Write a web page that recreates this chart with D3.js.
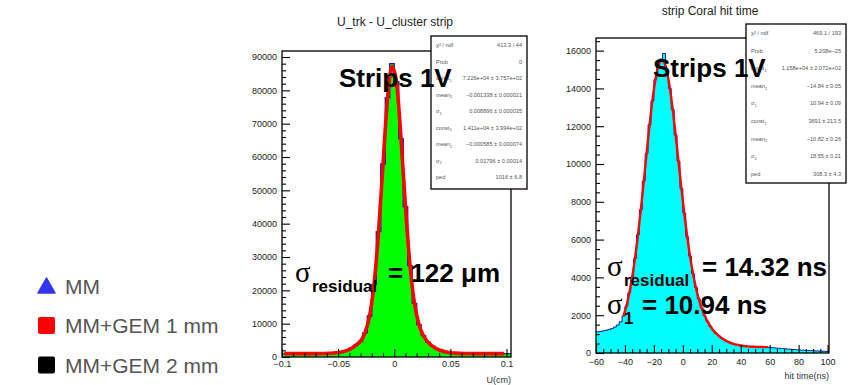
<!DOCTYPE html>
<html>
<head>
<meta charset="utf-8">
<script src="https://cdn.jsdelivr.net/npm/d3@7"></script>
<style>
  body { margin: 0; background: #fff; }
  svg { display: block; font-family: "Liberation Sans", Arial, sans-serif; }
</style>
</head>
<body>
<script>
// --- Daten: linkes Histogramm (U_trk - U_cluster), Bins von -0.1 in Schritten von 0.004
const uBinLo = -0.1;
const uBinWidth = 0.004;
const uCounts = [1010, 1030, 1000, 1020, 1040, 1010, 1030, 1020, 1050, 1060,
                 1110, 1190, 1340, 1600, 2010, 2650, 3590, 4760, 7250, 12300,
                 21800, 37600, 57900, 77800, 88000, 82600, 65500, 45100, 27400, 16100,
                 9700, 6400, 4450, 3270, 2410, 1870, 1500, 1290, 1150, 1090,
                 1050, 1030, 1020, 1040, 1010, 1020, 1000, 1030, 1010, 1020];
const uFit = [1016, 1016, 1016, 1016, 1016, 1016, 1019, 1024, 1034, 1057,
              1101, 1185, 1336, 1593, 2006, 2641, 3601, 4728, 7282, 12285,
              21784, 37409, 57857, 77490, 87142, 82330, 65630, 44954, 27509, 16083,
              9729, 6377, 4472, 3251, 2424, 1864, 1504, 1283, 1155, 1085,
              1049, 1030, 1022, 1018, 1016, 1016, 1016, 1016, 1016, 1016];
const uYTicks = [0, 10000, 20000, 30000, 40000, 50000, 60000, 70000, 80000, 90000];
const uXTicks = [-0.1, -0.05, 0, 0.05, 0.1];
const uXTickLabels = ["\u22120.1", "\u22120.05", "0", "0.05", "0.1"];
const uStats = [
  ["\u03c7\u00b2 / ndf", "", "413.3 / 44"],
  ["Prob", "", "0"],
  ["const", "1", "7.226e+04 \u00b1 3.757e+02"],
  ["mean", "1", "\u22120.001338 \u00b1 0.000021"],
  ["\u03c3", "1", "0.008896 \u00b1 0.000035"],
  ["const", "2", "1.411e+04 \u00b1 3.994e+02"],
  ["mean", "2", "\u22120.000585 \u00b1 0.000074"],
  ["\u03c3", "2", "0.01796 \u00b1 0.00014"],
  ["ped", "", "1016 \u00b1 6.8"]
];

// --- Daten: rechtes Histogramm (strip Coral hit time), Bins von -60 ns, 2 ns breit
const tBinLo = -60;
const tBinWidth = 2;
const tCounts = [1120, 1140, 1170, 1200, 1240, 1290, 1370, 1480, 1650, 1960,
                 2470, 3180, 4020, 5010, 6270, 7580, 9100, 10560, 12080, 13340,
                 14460, 15200, 15560, 15850, 14900, 14000, 12900, 11530, 10150, 8700,
                 7400, 6150, 5120, 4200, 3480, 2860, 2390, 1980, 1680, 1410,
                 1210, 1030, 900, 770, 685, 600, 540, 480, 445, 405,
                 385, 360, 350, 335, 330, 320, 315, 310, 305, 300,
                 290, 275, 260, 245, 230, 220, 205, 195, 185, 170,
                 160, 150, 140, 130, 125, 115, 110, 100, 95, 85];
const tFitStart = -41;
const tFitStep = 2;
const tFit = [1955, 2483, 3159, 4006, 5033, 6240, 7602, 9074, 10588, 12051,
              13365, 14429, 15157, 15485, 15391, 14888, 14023, 12878, 11549, 10132,
              8719, 7381, 6168, 5110, 4212, 3471, 2867, 2381, 1990, 1674,
              1419, 1209, 1037, 895, 777, 680, 600, 535, 483, 441,
              408, 383, 363, 348, 337, 328, 322, 318, 315, 313, 311];
const tYTicks = [0, 2000, 4000, 6000, 8000, 10000, 12000, 14000, 16000];
const tXTicks = [-60, -40, -20, 0, 20, 40, 60, 80, 100];
const tXTickLabels = ["\u221260", "\u221240", "\u221220", "0", "20", "40", "60", "80", "100"];
const tStats = [
  ["\u03c7\u00b2 / ndf", "", "469.1 / 193"],
  ["Prob", "", "5.208e\u221225"],
  ["const", "1", "1.158e+04 \u00b1 2.072e+02"],
  ["mean", "1", "\u221214.84 \u00b1 0.05"],
  ["\u03c3", "1", "10.94 \u00b1 0.09"],
  ["const", "2", "3691 \u00b1 213.5"],
  ["mean", "2", "\u221210.82 \u00b1 0.26"],
  ["\u03c3", "2", "18.55 \u00b1 0.21"],
  ["ped", "", "308.3 \u00b1 4.3"]
];

// --- Legende
const legendNames = ["MM", "MM+GEM 1 mm", "MM+GEM 2 mm"];
const legendColors = ["#3434f5", "#ff0000", "#000000"];
const legendShapes = ["triangle", "square", "square"];

const width = 856;
const height = 385;

const svg = d3.select("body").append("svg")
    .attr("width", width)
    .attr("height", height)
    .attr("viewBox", [0, 0, width, height]);

svg.append("rect").attr("width", width).attr("height", height).attr("fill", "#fff");

function drawPanel(p) {
  const x = d3.scaleLinear().domain(p.xDomain).range(p.xRange);
  const y = d3.scaleLinear().domain(p.yDomain).range(p.yRange);
  const g = svg.append("g");

  g.append("clipPath").attr("id", p.id + "-clip")
    .append("rect")
      .attr("x", p.xRange[0]).attr("y", p.yRange[1])
      .attr("width", p.xRange[1] - p.xRange[0])
      .attr("height", p.yRange[0] - p.yRange[1]);

  // Histogramm als Stufen
  const steps = p.counts.map((c, i) => [p.binLo + i * p.binW, c]);
  steps.push([p.xDomain[1], p.counts[p.counts.length - 1]]);

  const plot = g.append("g").attr("clip-path", `url(#${p.id}-clip)`);

  plot.append("path")
      .datum(steps)
      .attr("fill", p.fill)
      .attr("d", d3.area()
        .x(d => x(d[0]))
        .y0(y(0))
        .y1(d => y(d[1]))
        .curve(d3.curveStepAfter));

  plot.append("path")
      .datum(steps)
      .attr("fill", "none")
      .attr("stroke", "#1a1a9a")
      .attr("stroke-width", p.histWidth)
      .attr("d", d3.line()
        .x(d => x(d[0]))
        .y(d => y(d[1]))
        .curve(d3.curveStepAfter));

  // Fitkurve
  plot.append("path")
      .datum(p.fitX.map((v, i) => [v, p.fitY[i]]))
      .attr("fill", "none")
      .attr("stroke", "#ff0000")
      .attr("stroke-width", p.fitWidth)
      .attr("stroke-linejoin", "round")
      .attr("d", d3.line()
        .x(d => x(d[0]))
        .y(d => y(d[1]))
        .curve(d3.curveMonotoneX));

  // Achsen mit nach innen zeigenden Ticks (ROOT-Stil)
  const minorY = d3.range(p.yDomain[0], p.yDomain[1], p.yMinor).filter(v => v % p.yMajor !== 0);
  const minorX = d3.range(p.xDomain[0], p.xDomain[1] + 1e-9, p.xMinor)
      .filter(v => p.xTicks.every(t => Math.abs(t - v) > 1e-9));

  const styleAxis = sel => {
    sel.select(".domain").remove();
    sel.selectAll("line").attr("stroke", "#000").attr("stroke-width", 1.1);
    sel.selectAll("text").attr("fill", "#222").attr("font-size", 9)
      .attr("font-family", "Liberation Sans, Arial, sans-serif");
  };

  g.append("g").attr("transform", `translate(${p.xRange[0]},0)`)
    .call(d3.axisLeft(y).tickValues(p.yTicks).tickSize(-8).tickPadding(5).tickFormat(d3.format("d")))
    .call(styleAxis);
  g.append("g").attr("transform", `translate(${p.xRange[0]},0)`)
    .call(d3.axisLeft(y).tickValues(minorY).tickSize(-4).tickFormat(""))
    .call(styleAxis);
  g.append("g").attr("transform", `translate(0,${p.yRange[0]})`)
    .call(d3.axisBottom(x).tickValues(p.xTicks).tickSize(-8).tickPadding(p.xPad)
      .tickFormat((d, i) => p.xTickLabels[i]))
    .call(styleAxis);
  g.append("g").attr("transform", `translate(0,${p.yRange[0]})`)
    .call(d3.axisBottom(x).tickValues(minorX).tickSize(-4).tickFormat(""))
    .call(styleAxis);

  // Rahmen
  g.append("rect")
      .attr("x", p.xRange[0]).attr("y", p.yRange[1])
      .attr("width", p.xRange[1] - p.xRange[0])
      .attr("height", p.yRange[0] - p.yRange[1])
      .attr("fill", "none")
      .attr("stroke", "#000")
      .attr("stroke-width", 1.3);

  // Titel und Achsenbeschriftung
  g.append("text")
      .attr("x", p.titlePos[0]).attr("y", p.titlePos[1])
      .attr("text-anchor", "middle")
      .attr("font-size", 12)
      .attr("fill", "#222")
      .text(p.title);
  g.append("text")
      .attr("x", p.xRange[1]).attr("y", p.xTitleY)
      .attr("text-anchor", "end")
      .attr("font-size", 9)
      .attr("fill", "#333")
      .text(p.xTitle);

  // Statistik-Box
  const b = p.statBox;
  const box = g.append("g");
  box.append("rect")
      .attr("x", b.x).attr("y", b.y).attr("width", b.w).attr("height", b.h)
      .attr("fill", "#fff").attr("stroke", "#000").attr("stroke-width", 1.3);
  p.stats.forEach((row, i) => {
    const yy = b.first + i * b.step;
    const lab = box.append("text")
        .attr("x", b.x + 5).attr("y", yy)
        .attr("font-size", 5.6).attr("fill", "#555")
        .text(row[0]);
    if (row[1]) lab.append("tspan").attr("font-size", 4).attr("dy", 1.8).text(row[1]);
    box.append("text")
        .attr("x", b.x + b.w - 5).attr("y", yy)
        .attr("text-anchor", "end")
        .attr("font-size", 5.6).attr("fill", "#555")
        .text(row[2]);
  });

  // "Strips 1V"
  g.append("text")
      .attr("x", p.stripsPos[0]).attr("y", p.stripsPos[1])
      .attr("font-size", 26).attr("font-weight", "bold")
      .attr("fill", "#000")
      .text("Strips 1V");
}

function sigmaLabel(xs, ys, sub, rest, restX) {
  svg.append("text")
      .attr("x", xs).attr("y", ys)
      .attr("font-family", "Liberation Serif, serif")
      .attr("font-size", 29)
      .text("\u03c3");
  svg.append("text")
      .attr("x", xs + 17).attr("y", ys + 10)
      .attr("font-size", 17).attr("font-weight", "bold")
      .text(sub);
  svg.append("text")
      .attr("x", restX).attr("y", ys)
      .attr("font-size", 26).attr("font-weight", "bold")
      .text(rest);
}

drawPanel({
  id: "u",
  xDomain: [-0.1, 0.104], xRange: [282, 511],
  yDomain: [0, 91800], yRange: [357, 51],
  binLo: uBinLo, binW: uBinWidth, counts: uCounts,
  fitX: uCounts.map((_, i) => uBinLo + (i + 0.5) * uBinWidth), fitY: uFit,
  fill: "#00ff00", fitWidth: 3.6, histWidth: 1.3,
  yTicks: uYTicks, yMajor: 10000, yMinor: 2000,
  xTicks: uXTicks, xTickLabels: uXTickLabels, xMinor: 0.01, xPad: 4,
  title: "U_trk - U_cluster strip", titlePos: [395, 26],
  xTitle: "U(cm)", xTitleY: 383,
  stats: uStats,
  statBox: { x: 431, y: 36, w: 96, h: 153, first: 47, step: 16.5 },
  stripsPos: [339, 87]
});

drawPanel({
  id: "t",
  xDomain: [-60, 101], xRange: [596, 829],
  yDomain: [0, 16667], yRange: [353, 38],
  binLo: tBinLo, binW: tBinWidth, counts: tCounts,
  fitX: tFit.map((_, i) => tFitStart + i * tFitStep), fitY: tFit,
  fill: "#00ffff", fitWidth: 2.4, histWidth: 1,
  yTicks: tYTicks, yMajor: 2000, yMinor: 500,
  xTicks: tXTicks, xTickLabels: tXTickLabels, xMinor: 5, xPad: 6,
  title: "strip Coral hit time", titlePos: [710, 15],
  xTitle: "hit time(ns)", xTitleY: 379,
  stats: tStats,
  statBox: { x: 746, y: 24, w: 100, h: 159, first: 35, step: 17.6 },
  stripsPos: [653, 77]
});

sigmaLabel(295, 282, "residual", "= 122 \u03bcm", 388);
sigmaLabel(607, 276, "residual", "= 14.32 ns", 702);
sigmaLabel(607, 314, "1", "= 10.94 ns", 642);

// Legende links unten
const legend = svg.append("g");
legendNames.forEach((name, i) => {
  const cy = 286 + i * 39.5;
  if (legendShapes[i] === "triangle") {
    legend.append("path")
        .attr("d", `M38,${cy + 7} L55,${cy + 7} L46.5,${cy - 8} Z`)
        .attr("fill", legendColors[i])
        .attr("stroke", legendColors[i])
        .attr("stroke-width", 1.5)
        .attr("stroke-linejoin", "round");
  } else {
    legend.append("rect")
        .attr("x", 38).attr("y", cy - 8.5)
        .attr("width", 17).attr("height", 17)
        .attr("rx", 2)
        .attr("fill", legendColors[i]);
  }
  legend.append("text")
      .attr("x", 65).attr("y", cy + 7.5)
      .attr("font-size", 21)
      .attr("fill", "#555")
      .text(name);
});
</script>
</body>
</html>
